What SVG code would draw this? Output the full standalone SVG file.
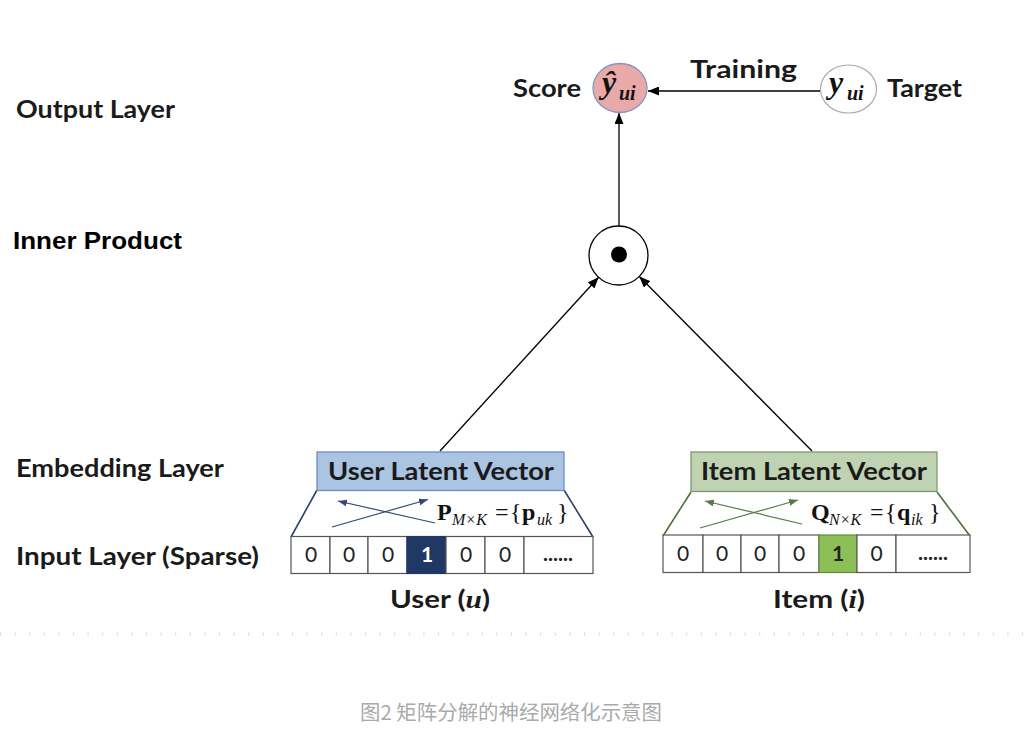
<svg xmlns="http://www.w3.org/2000/svg" width="1033" height="742" viewBox="0 0 1033 742">
<style>
.lbl{font-family:Lato,"Open Sans","Liberation Sans",sans-serif;font-weight:bold;font-size:25px;fill:#1a1a1a}
.hel{font-family:"Liberation Sans",Arial,sans-serif;font-weight:bold;font-size:23px;fill:#000}
.math{font-family:"Liberation Serif","Times New Roman",serif;fill:#111}
.cell{fill:#fff;stroke:#555;stroke-width:1.2}
.digit{font-family:Lato,"Open Sans","Liberation Sans",sans-serif;font-size:21px;fill:#222;text-anchor:middle}
.conn{stroke:#000;stroke-width:1.3;fill:none}
</style>
<defs>
<marker id="ah" viewBox="0 0 11 9" refX="11" refY="4.5" markerWidth="11" markerHeight="9" markerUnits="userSpaceOnUse" orient="auto"><path d="M0,0 L11,4.5 L0,9 z" fill="#000"/></marker>
<marker id="ahb" viewBox="0 0 9 7" refX="9" refY="3.5" markerWidth="9" markerHeight="7" markerUnits="userSpaceOnUse" orient="auto"><path d="M0,0 L9,3.5 L0,7 z" fill="#34497a"/></marker>
<marker id="ahg" viewBox="0 0 9 7" refX="9" refY="3.5" markerWidth="9" markerHeight="7" markerUnits="userSpaceOnUse" orient="auto"><path d="M0,0 L9,3.5 L0,7 z" fill="#557a45"/></marker>
</defs>
<rect width="1033" height="742" fill="#fff"/>

<g id="layer-labels">
<text class="lbl" x="16" y="118" textLength="159" lengthAdjust="spacingAndGlyphs">Output Layer</text>
<text class="hel" x="13" y="249" textLength="169" lengthAdjust="spacingAndGlyphs">Inner Product</text>
<text class="lbl" x="16" y="477" textLength="208" lengthAdjust="spacingAndGlyphs">Embedding Layer</text>
<text class="lbl" x="16" y="565" textLength="243" lengthAdjust="spacingAndGlyphs">Input Layer (Sparse)</text>
</g>

<g id="connectors">
<line class="conn" x1="820" y1="91" x2="648" y2="91" marker-end="url(#ah)"/>
<line class="conn" x1="619" y1="226" x2="619" y2="113" marker-end="url(#ah)"/>
<line class="conn" x1="440" y1="451" x2="598.6" y2="277.3" marker-end="url(#ah)"/>
<line class="conn" x1="812" y1="451" x2="639.3" y2="276.5" marker-end="url(#ah)"/>
<text class="lbl" x="690" y="78" textLength="107" lengthAdjust="spacingAndGlyphs">Training</text>
</g>

<g id="score">
<ellipse cx="620" cy="88" rx="27" ry="24.5" fill="#e9a9a8" stroke="#8597c4" stroke-width="1.3"/>
<text class="math" x="602" y="93" font-size="32" font-weight="bold" font-style="italic">ŷ</text>
<text class="math" x="619" y="100" font-size="20" font-weight="bold" font-style="italic">ui</text>
<text class="lbl" x="513" y="97" textLength="68" lengthAdjust="spacingAndGlyphs">Score</text>
</g>

<g id="target">
<ellipse cx="848.5" cy="89" rx="28" ry="24" fill="#fff" stroke="#aaa" stroke-width="1.2"/>
<text class="math" x="829" y="93" font-size="32" font-weight="bold" font-style="italic">y</text>
<text class="math" x="847" y="100" font-size="20" font-weight="bold" font-style="italic">ui</text>
<text class="lbl" x="887" y="97" textLength="75" lengthAdjust="spacingAndGlyphs">Target</text>
</g>

<g id="inner-product">
<circle cx="618.5" cy="255.5" r="29.5" fill="#fff" stroke="#000" stroke-width="1.3"/>
<circle cx="619" cy="254.5" r="8" fill="#000"/>
</g>

<g id="user-embedding">
<path d="M317,490 L291,537 M564,490 L593,537" stroke="#2c4170" stroke-width="1.6" fill="none"/>
<rect x="317" y="452" width="247" height="38.5" fill="#aac4e2" stroke="#6c8ebf" stroke-width="1.3"/>
<text class="lbl" x="328" y="480" textLength="226" lengthAdjust="spacingAndGlyphs">User Latent Vector</text>
<line x1="332" y1="527" x2="428" y2="499.5" stroke="#34497a" stroke-width="1.2" marker-end="url(#ahb)"/>
<line x1="435" y1="523" x2="338" y2="501" stroke="#34497a" stroke-width="1.2" marker-end="url(#ahb)"/>
<text class="math" y="520" font-size="24"><tspan x="437" font-weight="bold">P</tspan><tspan x="452" dy="5" font-size="16" font-style="italic">M×K</tspan><tspan x="495" dy="-5">=</tspan><tspan x="510">{</tspan><tspan x="522" font-weight="bold">p</tspan><tspan x="537" dy="5" font-size="16" font-style="italic">uk</tspan><tspan x="557" dy="-5">}</tspan></text>
</g>

<g id="user-input">
<rect class="cell" x="291" y="536.5" width="39" height="37"/>
<rect class="cell" x="330" y="536.5" width="38" height="37"/>
<rect class="cell" x="368" y="536.5" width="39" height="37"/>
<rect x="407" y="536.5" width="39" height="37" fill="#1f3864" stroke="#1f3864" stroke-width="1.2"/>
<rect class="cell" x="446" y="536.5" width="39" height="37"/>
<rect class="cell" x="485" y="536.5" width="39" height="37"/>
<rect class="cell" x="524" y="536.5" width="69" height="37"/>
<text class="digit" x="311" y="562">0</text>
<text class="digit" x="349" y="562">0</text>
<text class="digit" x="388" y="562">0</text>
<text class="digit" x="427" y="562" font-weight="bold" style="fill:#fff">1</text>
<text class="digit" x="466" y="562">0</text>
<text class="digit" x="505" y="562">0</text>
<text class="digit" x="558" y="561" font-weight="bold" font-size="16">......</text>
<text class="lbl" x="390" y="608" textLength="100" lengthAdjust="spacingAndGlyphs">User (<tspan font-family="Liberation Serif,serif" font-style="italic">u</tspan>)</text>
</g>

<g id="item-embedding">
<path d="M691,492 L663,536 M937,492 L970,536" stroke="#4d6f3a" stroke-width="1.6" fill="none"/>
<rect x="691" y="452" width="246" height="39.5" fill="#bfd2b2" stroke="#7b9b6b" stroke-width="1.3"/>
<text class="lbl" x="701" y="480" textLength="226" lengthAdjust="spacingAndGlyphs">Item Latent Vector</text>
<line x1="700" y1="528" x2="798" y2="500" stroke="#557a45" stroke-width="1.2" marker-end="url(#ahg)"/>
<line x1="802" y1="524" x2="705" y2="501" stroke="#557a45" stroke-width="1.2" marker-end="url(#ahg)"/>
<text class="math" y="520" font-size="24"><tspan x="811" font-weight="bold">Q</tspan><tspan x="829" dy="5" font-size="16" font-style="italic">N×K</tspan><tspan x="870" dy="-5">=</tspan><tspan x="885">{</tspan><tspan x="897" font-weight="bold">q</tspan><tspan x="911" dy="5" font-size="16" font-style="italic">ik</tspan><tspan x="929" dy="-5">}</tspan></text>
</g>

<g id="item-input">
<rect class="cell" x="663" y="535" width="40" height="37.5"/>
<rect class="cell" x="703" y="535" width="38" height="37.5"/>
<rect class="cell" x="741" y="535" width="38" height="37.5"/>
<rect class="cell" x="779" y="535" width="40" height="37.5"/>
<rect x="819" y="535" width="38" height="37.5" fill="#8cbf56" stroke="#5f8a3e" stroke-width="1.2"/>
<rect class="cell" x="857" y="535" width="39" height="37.5"/>
<rect class="cell" x="896" y="535" width="74" height="37.5"/>
<text class="digit" x="683" y="561">0</text>
<text class="digit" x="722" y="561">0</text>
<text class="digit" x="760" y="561">0</text>
<text class="digit" x="799" y="561">0</text>
<text class="digit" x="838" y="561" font-weight="bold">1</text>
<text class="digit" x="876.5" y="561">0</text>
<text class="digit" x="933" y="560" font-weight="bold" font-size="16">......</text>
<text class="lbl" x="773" y="608" textLength="92" lengthAdjust="spacingAndGlyphs">Item (<tspan font-family="Liberation Serif,serif" font-style="italic">i</tspan>)</text>
</g>

<line x1="0" y1="634" x2="1033" y2="634" stroke="#d8d8d8" stroke-width="3" stroke-dasharray="1 13.6"/>
<text x="360" y="720" font-family="'Noto Sans CJK SC','Liberation Sans',sans-serif" font-size="20" fill="#aaaaaa" textLength="302" lengthAdjust="spacingAndGlyphs">图2 矩阵分解的神经网络化示意图</text>
</svg>
